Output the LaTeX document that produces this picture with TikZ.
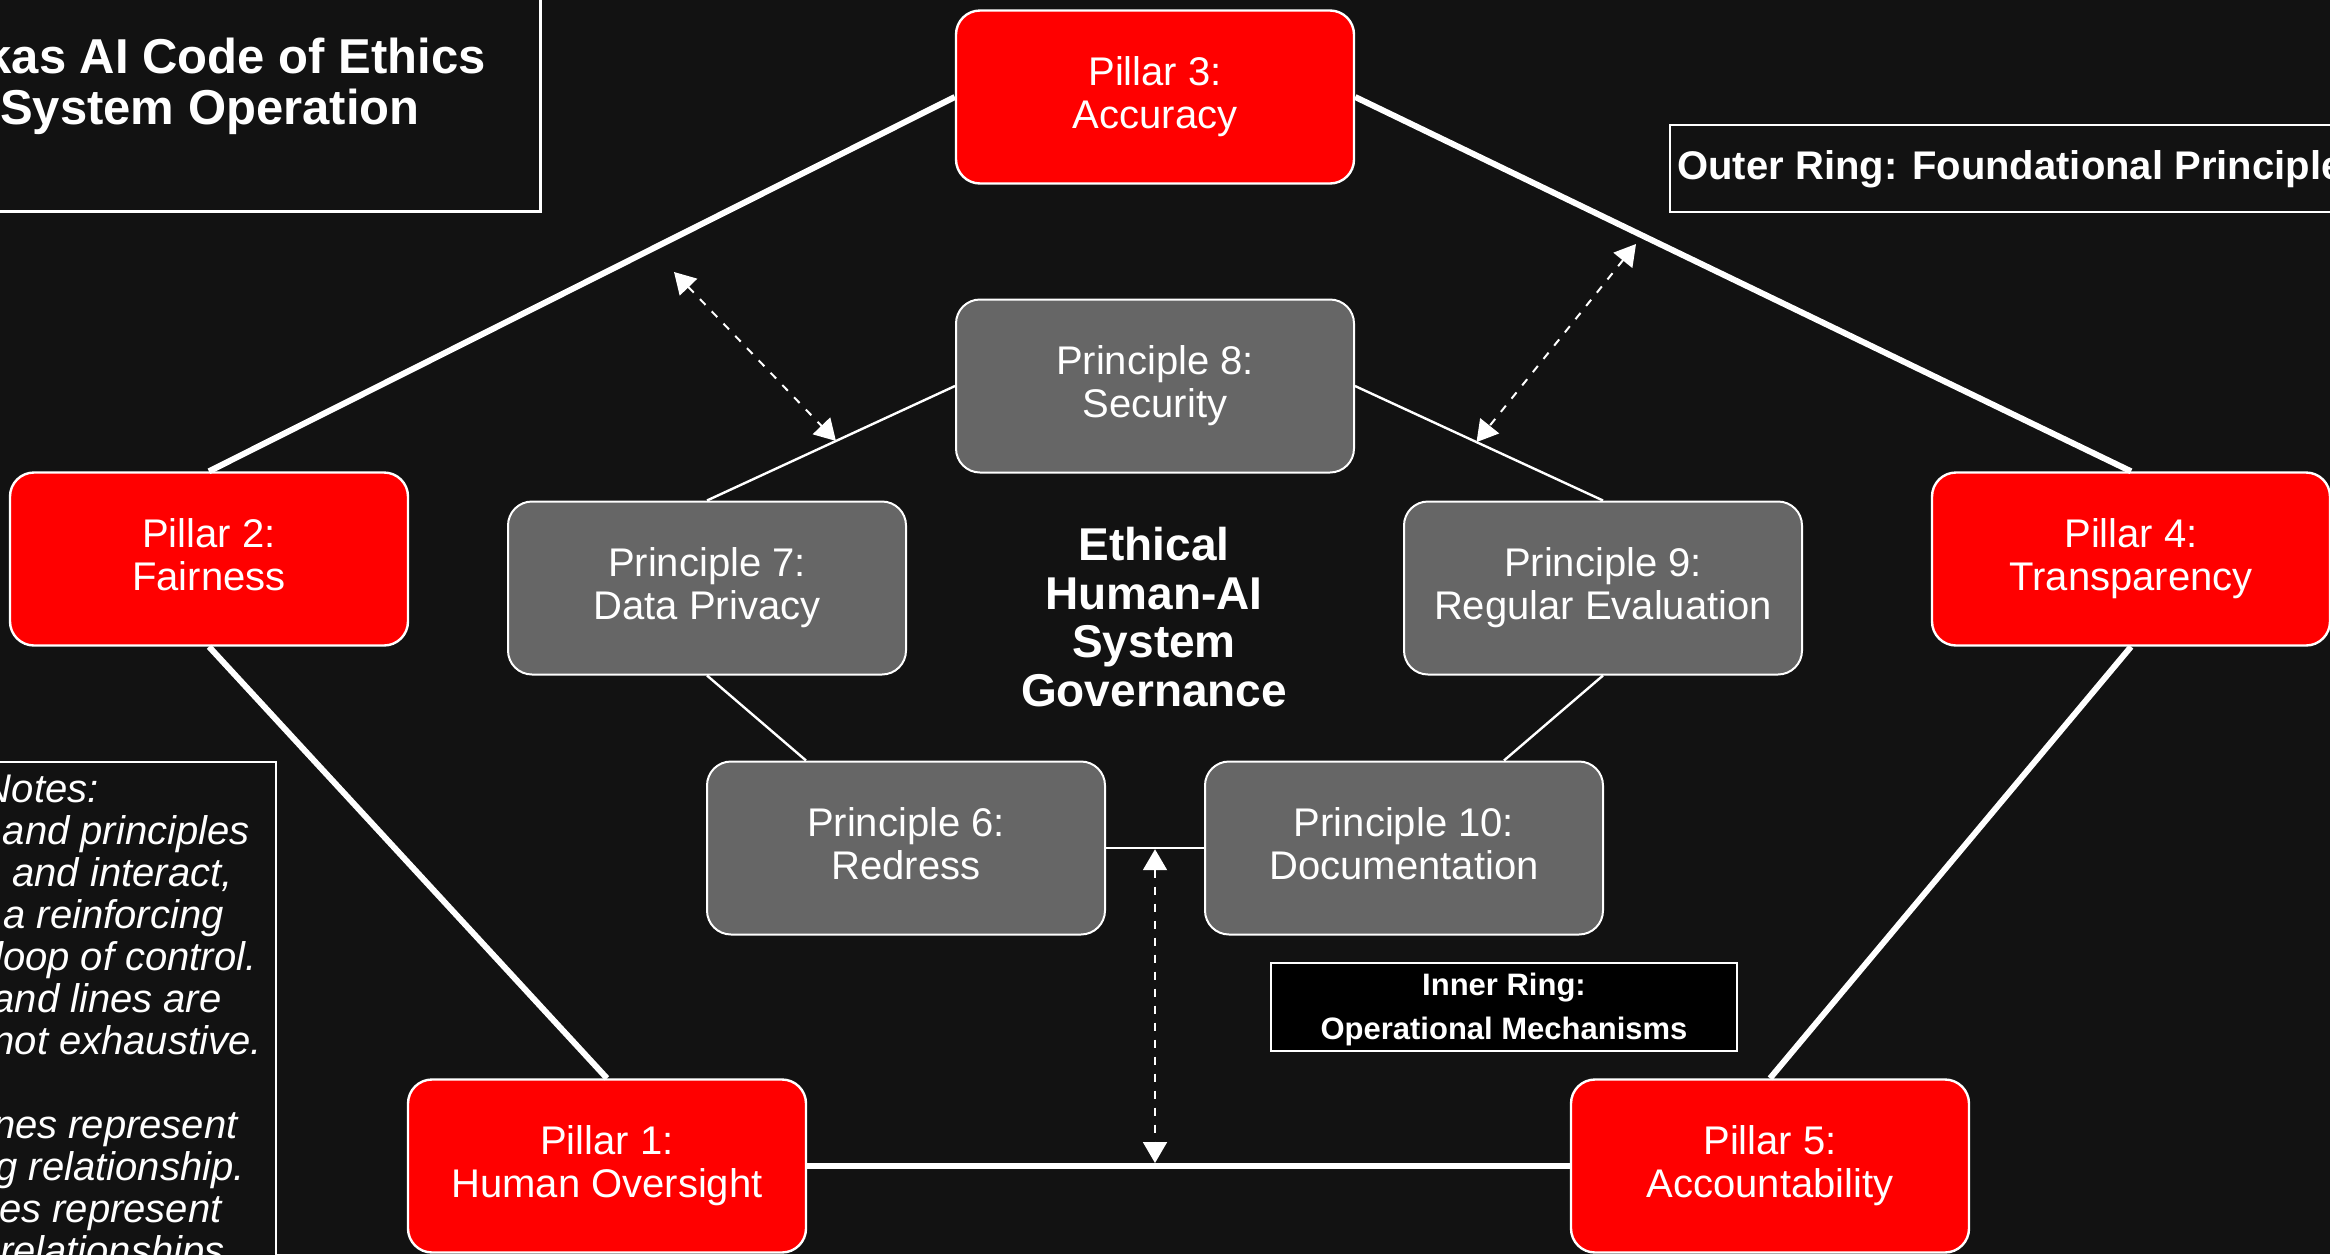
\documentclass[tikz,border=0pt]{standalone}
\usepackage{fontspec}
\setmainfont{Liberation Sans}
\usetikzlibrary{arrows.meta,calc}
\definecolor{fondo}{HTML}{121212}
\definecolor{rojo}{HTML}{FF0000}
\definecolor{gris}{HTML}{666666}

\tikzset{
  pillar/.style={fill=rojo,draw=white,line width=1.2pt,rounded corners=12pt,
    minimum width=199pt,minimum height=86.5pt,inner sep=0pt,text=white,align=center,
    font=\fontsize{20}{21.5}\selectfont,
    execute at begin node=\rule{0pt}{17.5pt},execute at end node=\vphantom{y}},
  principle/.style={pillar,fill=gris,line width=1pt},
  outerline/.style={draw=white,line width=3pt},
  innerline/.style={draw=white,line width=1.2pt},
  dotarrow/.style={draw=white,line width=1pt,dash pattern=on 4pt off 4.5pt,
    {Triangle[length=10.5pt,width=12pt]}-{Triangle[length=10.5pt,width=12pt]}},
  labelbox/.style={draw=white,line width=1.2pt,fill=fondo},
  boldtext/.style={text=white,inner sep=0pt,font=\fontsize{20}{22}\selectfont\bfseries},
  notetext/.style={text=white,inner sep=0pt,anchor=base east,font=\fontsize{20}{21}\selectfont\itshape}
}

\begin{document}
\begin{tikzpicture}[x=0.5pt,y=-0.5pt]
\useasboundingbox (0,0) rectangle (2330,1254);
\fill[fondo] (0,0) rectangle (2330,1254);
\clip (0,0) rectangle (2330,1254);

% legend and title boxes
\draw[labelbox,line width=1.5pt] (-20,-20) rectangle (540,211);
\node[boldtext,anchor=base east,font=\fontsize{24.5}{26}\selectfont\bfseries] (title1) at (486,73) {kas AI Code of Ethics};
\node[boldtext,anchor=base east,font=\fontsize{24.5}{26}\selectfont\bfseries] (title2) at (420,124) {System Operation};

\draw[labelbox] (1670,125) rectangle (2360,212);
\node[boldtext,anchor=base west] (outerlbl) at (1677,179) {Outer Ring: Foundational Principle};

\node[draw=white,line width=1pt,fill=black,minimum width=233pt,minimum height=44pt,
  inner sep=0pt,text=white,align=center,font=\fontsize{15.5}{22}\selectfont\bfseries]
  (innerlbl) at (1504,1007) {\rule{0pt}{14pt}Inner Ring:\\Operational Mechanisms};

\draw[labelbox] (-20,762) rectangle (276,1290);
\foreach \rx/\ly/\ln [count=\k] in {99/802/Notes:, 250/844/and principles,
    233/886/{e and interact,}, 224/928/a reinforcing, 257/970/loop of control.,
    222/1012/and lines are, 262/1054/not exhaustive., 238/1138/nes represent,
    245/1180/g relationship., 222/1222/es represent, 225/1264/relationships}
  \node[notetext] (note\k) at (\rx,\ly) {\ln};

% outer ring
\node[pillar] (P3) at (1155,97) {Pillar 3:\\Accuracy};
\node[pillar] (P2) at (209,559) {Pillar 2:\\Fairness};
\node[pillar] (P4) at (2131,559) {Pillar 4:\\Transparency};
\node[pillar] (P1) at (607,1166) {Pillar 1:\\Human Oversight};
\node[pillar] (P5) at (1770,1166) {Pillar 5:\\Accountability};

% inner ring
\node[principle] (P8) at (1155,386) {Principle 8:\\Security};
\node[principle] (P7) at (707,588) {Principle 7:\\Data Privacy};
\node[principle] (P9) at (1603,588) {Principle 9:\\Regular Evaluation};
\node[principle] (P6) at (906,848) {Principle 6:\\Redress};
\node[principle] (P10) at (1404,848) {Principle 10:\\Documentation};

\node[text=white,align=center,inner sep=0pt,font=\fontsize{23}{24.25}\selectfont\bfseries]
  (core) at (1154,617) {Ethical\\Human-AI\\System\\Governance};

\draw[outerline] (P3.west) -- (P2.north);
\draw[outerline] (P2.south) -- (P1.north);
\draw[outerline] (P1.east) -- (P5.west);
\draw[outerline] (P5.north) -- (P4.south);
\draw[outerline] (P4.north) -- (P3.east);

\draw[innerline] (P8.west) -- (P7.north);
\draw[innerline] (P8.east) -- (P9.north);
\draw[innerline] (P7.south) -- ([xshift=-50pt]P6.north);
\draw[innerline] (P9.south) -- ([xshift=50pt]P10.north);
\draw[innerline] (P6.east) -- (P10.west);

% dashed links between the rings
\coordinate (tipA) at (674,272);
\coordinate (tipB) at (1636,244);
\coordinate (midA) at ($(P8.west)!0.48!(P7.north)$);
\coordinate (midB) at ($(P8.east)!0.49!(P9.north)$);
\coordinate (midC) at ($(P6.east)!0.5!(P10.west)$);
\coordinate (baseC) at (midC |- P1.east);
\draw[dotarrow] (tipA) -- (midA);
\draw[dotarrow] (tipB) -- (midB);
\draw[dotarrow,shorten <=0.6pt,shorten >=1.5pt] (midC) -- (baseC);
\end{tikzpicture}
\end{document}
